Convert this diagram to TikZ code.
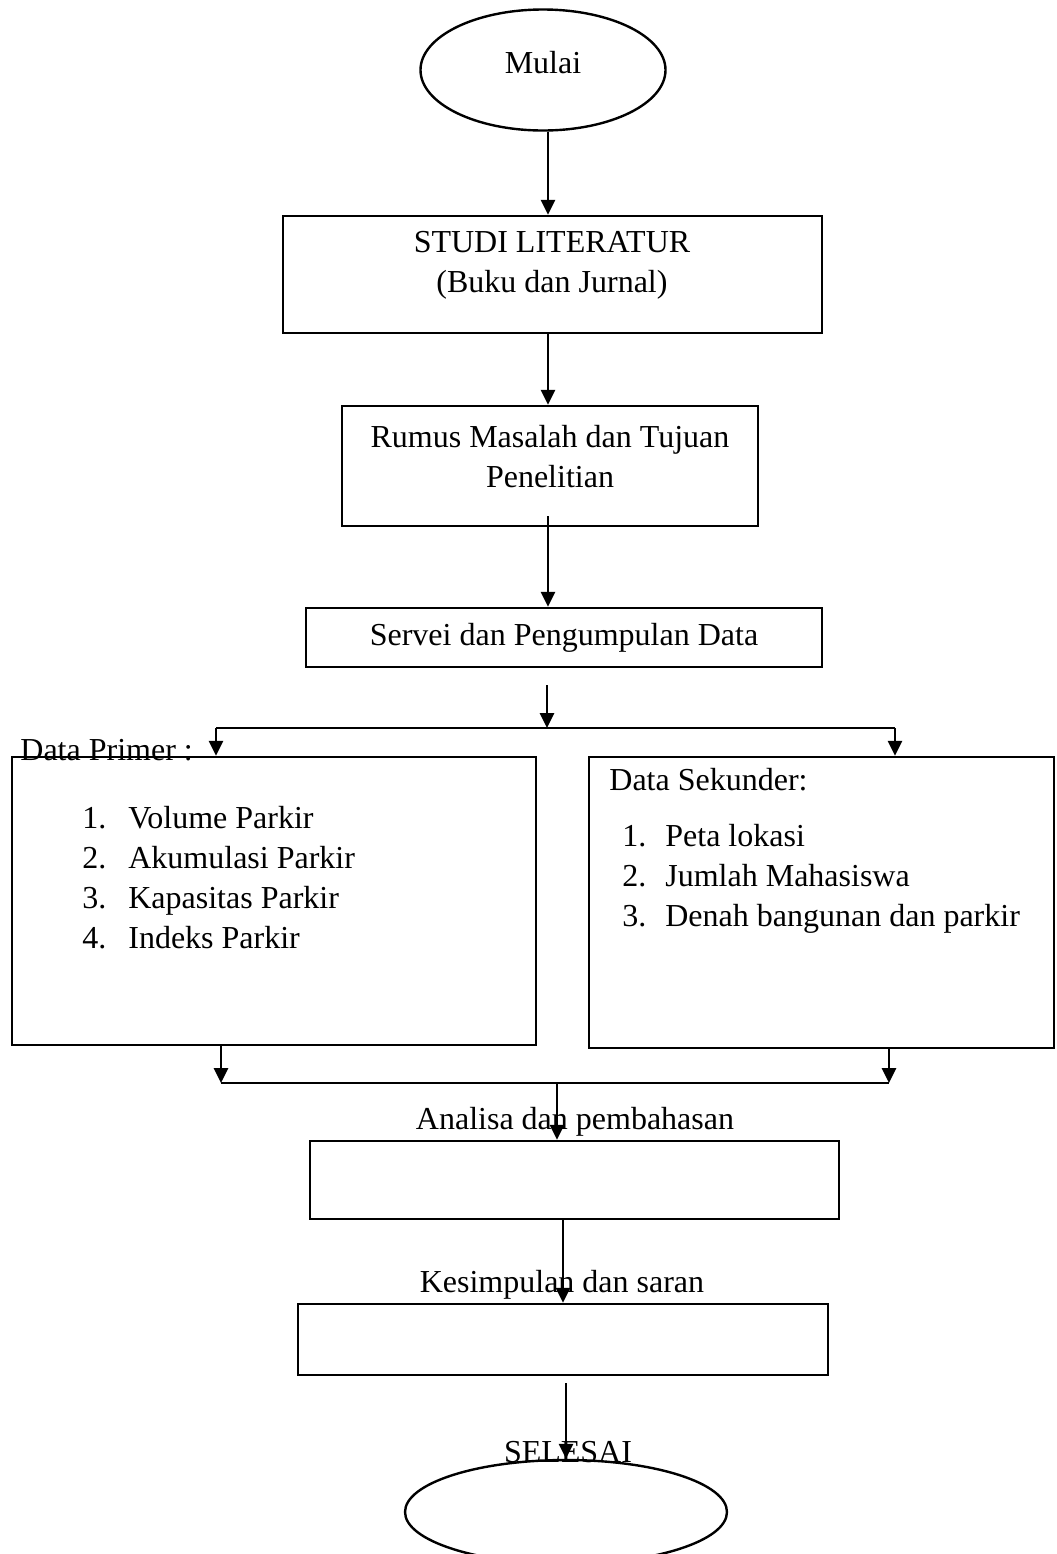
\documentclass[tikz,border=0pt]{standalone}
\usepackage{fontspec}
\setmainfont{Liberation Serif}
\usetikzlibrary{arrows.meta,shapes.geometric,calc}
\tikzset{box/.style={draw,line width=1.2pt,inner sep=0pt},
  oval/.style={draw,ellipse,line width=1.2pt,inner sep=0pt},
  txt/.style={inner sep=0pt,align=center},
  listtxt/.style={inner sep=0pt,anchor=base west},
  flow/.style={line width=1.4pt,-{Triangle[length=7.5pt,width=7pt]}},
  thinline/.style={line width=0.8pt}}

\begin{document}
\begin{tikzpicture}[x=0.5pt,y=-0.5pt,font=\fontsize{16}{20}\selectfont]
          \useasboundingbox (0,0) rectangle (1056,1554);
          \clip (0,0) rectangle (1056,1554);
          \coordinate (spine) at (548,0);

          \node[oval,minimum width=122.5pt,minimum height=60.5pt] (mulai) at (543,70) {};
          \node[txt] (mulaiText) at (543,63) {Mulai};
          \node[box,minimum width=269.5pt,minimum height=58.5pt] (studi) at (552.5,274.5) {};
          \node[txt] (studiText) at (552,265) {STUDI LITERATUR\\(Buku dan Jurnal)};
          \node[box,minimum width=208pt,minimum height=60pt] (rumus) at (550,466) {};
          \node[txt] (rumusText) at (550,457) {Rumus Masalah dan Tujuan\\Penelitian};
          \node[box,minimum width=258pt,minimum height=29.5pt] (servei) at (564,637.5) {Servei dan Pengumpulan Data};

          \node[box,minimum width=262pt,minimum height=144pt] (primer) at (274,901) {};
          \node[box,minimum width=232.5pt,minimum height=145.5pt] (sekunder) at (821.5,902.5) {};
          \node[listtxt] (primerHead) at (20,760) {Data Primer :};
          \node[listtxt] (primerList) at (82,828) {\begin{tabular}[t]{@{}p{23pt}@{}l@{}}
            1. & Volume Parkir\\ 2. & Akumulasi Parkir\\ 3. & Kapasitas Parkir\\ 4. & Indeks Parkir\end{tabular}};
          \node[listtxt] (sekunderHead) at (609,790) {Data Sekunder:};
          \node[listtxt] (sekunderList) at (622,846) {\begin{tabular}[t]{@{}p{21.5pt}@{}l@{}}
            1. & Peta lokasi\\ 2. & Jumlah Mahasiswa\\ 3. & Denah bangunan dan parkir\end{tabular}};

          \node[box,minimum width=264.5pt,minimum height=39pt] (analisa) at (574.5,1180) {};
          \node[txt] (analisaText) at (575,1122) {Analisa dan pembahasan};
          \node[box,minimum width=265pt,minimum height=35.5pt] (kesimpulan) at (563,1339.5) {};
          \node[txt] (kesimpulanText) at (562,1285) {Kesimpulan dan saran};
          \node[txt] (selesaiText) at (568,1452) {SELESAI};
          \node[oval,minimum width=161pt,minimum height=52pt] (selesai) at (566,1512) {};

          % split to the two data boxes
          \coordinate (splitTop) at (547,685);
          \coordinate (split) at (547,728);
          \coordinate (splitL) at (216,728);
          \coordinate (splitR) at (895,728);
          % join below the data boxes
          \coordinate (joinL) at (221,1083);
          \coordinate (joinR) at (889,1083);
          \coordinate (join) at (557,1083);

          \draw[flow] (mulai.south -| spine) -- (studi.north -| spine);
          \draw[flow] (studi.south -| spine) -- (rumus.north -| spine);
          \draw[flow] ($(rumus.south -| spine)+(0,-11)$) -- (servei.north -| spine);
          \draw[flow] (splitTop) -- (split);
          \draw[thinline] (splitL) -- (splitR);
          \draw[flow] (splitL) -- (splitL |- primer.north);
          \draw[flow] (splitR) -- (splitR |- sekunder.north);

          \draw[flow] (primer.south -| joinL) -- (joinL);
          \draw[flow] (sekunder.south -| joinR) -- (joinR);
          \draw[thinline] (joinL) -- (joinR);
          \draw[flow] (join) -- (join |- analisa.north);
          \draw[flow] (analisa.south -| kesimpulan.north) -- (kesimpulan.north);
          \draw[flow] ($(kesimpulan.south -| selesai.north)+(0,7)$) -- (selesai.north);
        \end{tikzpicture}
\end{document}
